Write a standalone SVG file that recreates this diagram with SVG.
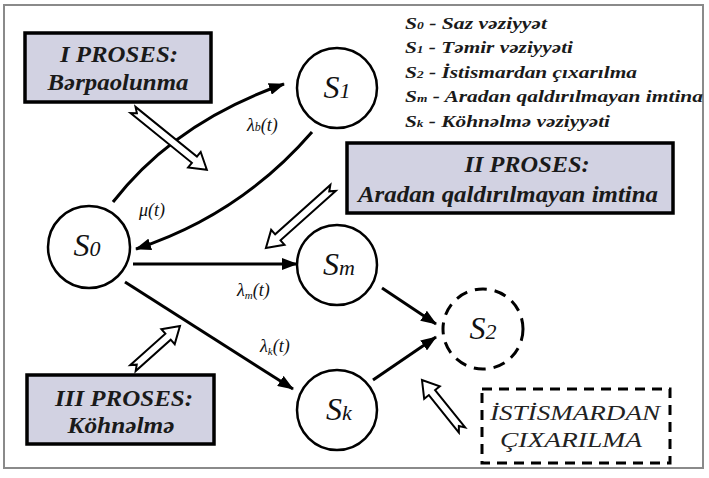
<svg xmlns="http://www.w3.org/2000/svg" width="709" height="478" viewBox="0 0 709 478" font-family="'Liberation Serif', 'DejaVu Serif', serif">
<style>
.frame{fill:#fff;stroke:#8a8a8a;stroke-width:2}
.box{fill:#d2d2e2;stroke:#000;stroke-width:3.5}
.dbox{fill:none;stroke:#000;stroke-width:3;stroke-dasharray:10 7}
.node{fill:#fff;stroke:#000;stroke-width:2.5}
.dnode{fill:#fff;stroke:#000;stroke-width:3;stroke-dasharray:12 8}
.bt{font-weight:bold;font-style:italic;fill:#1a1a1a;text-anchor:middle}
.leg{font-weight:bold;font-style:italic;fill:#1a1a1a;font-size:16px}
.nt{font-style:italic;fill:#111;text-anchor:middle;font-size:32px}
.lab{font-style:italic;fill:#111;font-size:18px}
.edge{fill:none;stroke:#000;stroke-width:3}
.hollow{fill:#fff;stroke:#000;stroke-width:2;stroke-linejoin:miter}
.dt{font-style:italic;fill:#222;text-anchor:middle;font-size:20px}
</style>
<defs>
<marker id="ah" markerUnits="userSpaceOnUse" markerWidth="16" markerHeight="12" refX="15" refY="6" orient="auto">
<path d="M0,0 L16,6 L0,12 z" fill="#000"/>
</marker>
</defs>
<rect class="frame" x="4" y="5" width="699" height="463"/>

<g id="legend" font-family="Liberation Serif, serif">
<text class="leg" x="405" y="29" textLength="142" lengthAdjust="spacingAndGlyphs">S<tspan font-size="10">0</tspan> - Saz vəziyyət</text>
<text class="leg" x="405" y="53" textLength="168" lengthAdjust="spacingAndGlyphs">S<tspan font-size="10">1</tspan> - Təmir vəziyyəti</text>
<text class="leg" x="405" y="78" textLength="232" lengthAdjust="spacingAndGlyphs">S<tspan font-size="10">2</tspan> - İstismardan çıxarılma</text>
<text class="leg" x="405" y="102" textLength="298" lengthAdjust="spacingAndGlyphs">S<tspan font-size="10">m</tspan> - Aradan qaldırılmayan imtina</text>
<text class="leg" x="405" y="127" textLength="205" lengthAdjust="spacingAndGlyphs">S<tspan font-size="10">k</tspan> - Köhnəlmə vəziyyəti</text>
</g>

<g id="proses1">
<rect class="box" x="25" y="33" width="186" height="69"/>
<text class="bt" x="119" y="62" font-size="23" textLength="118" lengthAdjust="spacingAndGlyphs">I PROSES:</text>
<text class="bt" x="118" y="90" font-size="23" textLength="141" lengthAdjust="spacingAndGlyphs">Bərpaolunma</text>
</g>
<g id="proses2">
<rect class="box" x="347" y="143" width="326" height="70"/>
<text class="bt" x="527" y="172" font-size="23" textLength="125" lengthAdjust="spacingAndGlyphs">II PROSES:</text>
<text class="bt" x="508" y="202" font-size="23" textLength="300" lengthAdjust="spacingAndGlyphs">Aradan qaldırılmayan imtina</text>
</g>
<g id="proses3">
<rect class="box" x="27" y="375" width="187" height="69"/>
<text class="bt" x="124" y="406" font-size="23" textLength="138" lengthAdjust="spacingAndGlyphs">III PROSES:</text>
<text class="bt" x="121" y="433" font-size="23" textLength="107" lengthAdjust="spacingAndGlyphs">Köhnəlmə</text>
</g>
<g id="istismar">
<rect class="dbox" x="482" y="389" width="188" height="74"/>
<text class="dt" x="575" y="420" textLength="170" lengthAdjust="spacingAndGlyphs">İSTİSMARDAN</text>
<text class="dt" x="571" y="447" textLength="142" lengthAdjust="spacingAndGlyphs">ÇIXARILMA</text>
</g>

<g id="S0">
<circle class="node" cx="89" cy="247" r="41"/>
<text class="nt" x="87" y="256">S<tspan font-size="22">0</tspan></text>
</g>
<g id="S1">
<circle class="node" cx="337" cy="88" r="40"/>
<text class="nt" x="337" y="98">S<tspan font-size="22">1</tspan></text>
</g>
<g id="Sm">
<circle class="node" cx="337" cy="265" r="40"/>
<text class="nt" x="339" y="275">S<tspan font-size="22">m</tspan></text>
</g>
<g id="Sk">
<circle class="node" cx="337" cy="410" r="40"/>
<text class="nt" x="339" y="420">S<tspan font-size="22">k</tspan></text>
</g>
<g id="S2">
<circle class="dnode" cx="483" cy="329" r="40"/>
<text class="nt" x="483" y="339">S<tspan font-size="22">2</tspan></text>
</g>

<g id="connectors">
<path class="edge" d="M113,202 Q175,122 284,84" marker-end="url(#ah)"/>
<path class="edge" d="M312,132 Q240,215 136,249" marker-end="url(#ah)"/>
<path class="edge" d="M133,264 L297,264" marker-end="url(#ah)"/>
<path class="edge" d="M125,282 L293,389" marker-end="url(#ah)"/>
<path class="edge" d="M382,288 L436,324" marker-end="url(#ah)"/>
<path class="edge" d="M373,380 L436,337" marker-end="url(#ah)"/>
<polygon class="hollow" transform="translate(133,110) rotate(39)" points="0,-4 79,-4 79,-10 95,0 79,10 79,4 0,4 5,0"/>
<polygon class="hollow" transform="translate(333,188) rotate(138.2)" points="0,-4 74,-4 74,-10 90,0 74,10 74,4 0,4 5,0"/>
<polygon class="hollow" transform="translate(133,368) rotate(-41.8)" points="0,-4 47,-4 47,-10 63,0 47,10 47,4 0,4 5,0"/>
<polygon class="hollow" transform="translate(462,430) rotate(-128.7)" points="0,-4 48,-4 48,-10 64,0 48,10 48,4 0,4 5,0"/>
<text class="lab" x="247" y="131">λ<tspan font-size="12">b</tspan>(t)</text>
<text class="lab" x="139" y="216">μ(t)</text>
<text class="lab" x="237" y="296">λ<tspan font-size="11" dy="3">m</tspan><tspan dy="-3">(t)</tspan></text>
<text class="lab" x="260" y="352">λ<tspan font-size="11" dy="3">k</tspan><tspan dy="-3">(t)</tspan></text>
</g>
</svg>
